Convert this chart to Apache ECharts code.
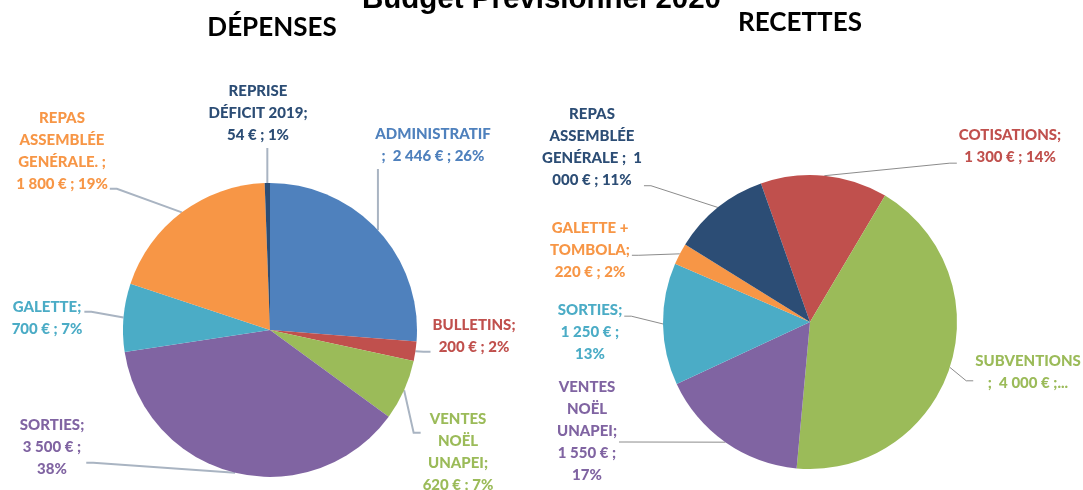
<!DOCTYPE html>
<html>
<head>
<meta charset="utf-8">
<script src="https://cdn.jsdelivr.net/npm/echarts@6/dist/echarts.min.js"></script>
<style>
  html, body { margin: 0; background: #fff; }
  #chart { width: 1083px; height: 490px; }
</style>
</head>
<body>
<div id="chart"></div>
<script>
// Dépenses (left pie), clockwise from 12 o'clock
const depNames = ['ADMINISTRATIF', 'BULLETINS', 'VENTES NOËL UNAPEI', 'SORTIES', 'GALETTE', 'REPAS ASSEMBLÉE GENÉRALE.', 'REPRISE DÉFICIT 2019'];
const depValues = [2446, 200, 620, 3500, 700, 1800, 54];
const depLabels = [
    'ADMINISTRATIF\n;  2 446 € ; 26%',
    'BULLETINS;\n200 € ; 2%',
    'VENTES\nNOËL\nUNAPEI;\n620 € ; 7%',
    'SORTIES;\n3 500 € ;\n38%',
    'GALETTE;\n700 € ; 7%',
    'REPAS\nASSEMBLÉE\nGENÉRALE. ;\n1 800 € ; 19%',
    'REPRISE\nDÉFICIT 2019;\n54 € ; 1%'
];
const depColors = ['#4F81BD', '#C0504D', '#9BBB59', '#8064A2', '#4BACC6', '#F79646', '#2C4D75'];

// Recettes (right pie)
const recNames = ['COTISATIONS', 'SUBVENTIONS', 'VENTES NOËL UNAPEI', 'SORTIES', 'GALETTE + TOMBOLA', 'REPAS ASSEMBLÉE GENÉRALE'];
const recValues = [1300, 4000, 1550, 1250, 220, 1000];
const recLabels = [
    'COTISATIONS;\n1 300 € ; 14%',
    'SUBVENTIONS\n;  4 000 € ;...',
    'VENTES\nNOËL\nUNAPEI;\n1 550 € ;\n17%',
    'SORTIES;\n1 250 € ;\n13%',
    'GALETTE +\nTOMBOLA;\n220 € ; 2%',
    'REPAS\nASSEMBLÉE\nGENÉRALE ;  1\n000 € ; 11%'
];
const recColors = ['#C0504D', '#9BBB59', '#8064A2', '#4BACC6', '#F79646', '#2C4D75'];

// label centre x, y, side the leader line attaches to, and where on that side
const depLabelPos = [
    [433, 145, 'b', 0],
    [474, 336, 'l', 0.86],
    [458, 452, 'l', 0.28],
    [52, 447, 'r', 0.74],
    [47, 318, 'r', 0.36],
    [62, 151, 'r', 0.93],
    [258, 113, 'b', 0]
];
const recLabelPos = [
    [1010, 146, 'l', 0.89],
    [1028, 372, 'l', 0.7],
    [587, 431, 'r', 0.6],
    [590, 332, 'r', 0.26],
    [590, 250, 'r', 0.58],
    [592, 147, 'r', 0.94]
];

function placeLabels(pos) {
    return function (params) {
        const p = pos[params.dataIndex];
        const w = params.labelRect.width;
        const h = params.labelRect.height;
        const left = p[0] - w / 2;
        const top = p[1] - h / 2;
        const edge = params.labelLinePoints[0];
        const start = [edge[0], edge[1]];
        let pts;
        if (p[2] === 'b') {
            const end = [start[0], top + h + 2];
            pts = [start, [start[0], (start[1] + end[1]) / 2], end];
        } else {
            const y = top + h * p[3];
            const x = p[2] === 'l' ? left - 2 : left + w + 2;
            pts = [start, [p[2] === 'l' ? x - 7 : x + 7, y], [x, y]];
        }
        return {
            x: p[0],
            y: p[1],
            align: 'center',
            verticalAlign: 'middle',
            labelLinePoints: pts
        };
    };
}

function pieSeries(names, values, labels, colors, pos, center, startAngle, lineStyle) {
    return {
        type: 'pie',
        center: center,
        radius: 147,
        startAngle: startAngle,
        clockwise: true,
        avoidLabelOverlap: false,
        animation: false,
        data: names.map((n, i) => ({
            name: n,
            value: values[i],
            itemStyle: { color: colors[i] },
            label: { color: colors[i] }
        })),
        label: {
            show: true,
            position: 'outside',
            formatter: (p) => labels[p.dataIndex],
            fontFamily: 'Lato',
            fontWeight: 900,
            fontSize: 15,
            lineHeight: 22,
            align: 'center'
        },
        labelLine: {
            show: true,
            length: 10,
            length2: 10,
            lineStyle: lineStyle
        },
        labelLayout: placeLabels(pos),
        emphasis: { disabled: true }
    };
}

const chart = echarts.init(document.getElementById('chart'));

const option = {
    backgroundColor: '#fff',
    title: [
        {
            text: 'Budget Prévisionnel 2020',
            left: 'center',
            top: -20,
            textStyle: { fontFamily: 'Liberation Sans', fontWeight: 'bold', fontSize: 29.5, color: '#000' }
        },
        {
            text: 'DÉPENSES',
            left: 267,
            top: 10,
            textAlign: 'center',
            textStyle: { fontFamily: 'Lato', fontWeight: 'bold', fontSize: 26, color: '#000' }
        },
        {
            text: 'RECETTES',
            left: 795,
            top: 5,
            textAlign: 'center',
            textStyle: { fontFamily: 'Lato', fontWeight: 'bold', fontSize: 26, color: '#000' }
        }
    ],
    series: [
        pieSeries(depNames, depValues, depLabels, depColors, depLabelPos, [270, 330], 90,
            { color: '#A9B4C2', width: 2 }),
        pieSeries(recNames, recValues, recLabels, recColors, recLabelPos, [810, 322], 109.5,
            { color: '#8C8C8C', width: 1 })
    ]
};

chart.setOption(option);
</script>
</body>
</html>
